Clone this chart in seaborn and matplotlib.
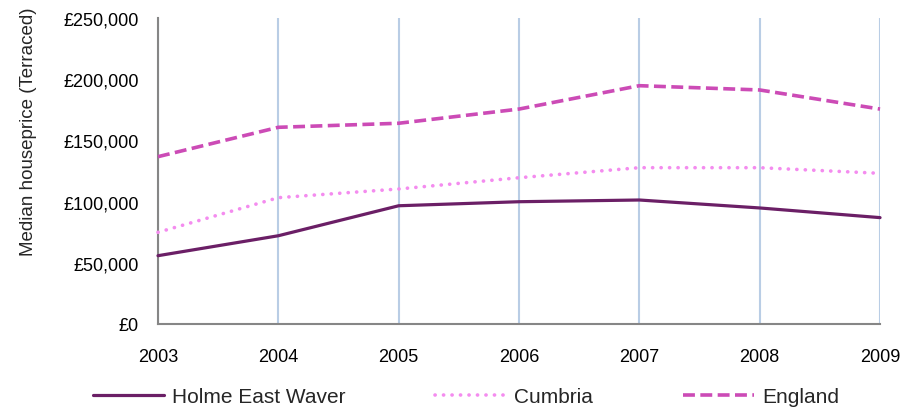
import matplotlib
matplotlib.use("Agg")
import matplotlib.pyplot as plt
from matplotlib.ticker import FuncFormatter
import seaborn as sns
import pandas as pd

# Datos
years = [2003, 2004, 2005, 2006, 2007, 2008, 2009]
holme = [55800, 72100, 96600, 99900, 101300, 94800, 86900]
cumbria = [74900, 103200, 110300, 119500, 127700, 127700, 123100]
england = [136700, 160700, 164000, 175600, 194700, 191200, 175600]

series_names = ["Holme East Waver", "Cumbria", "England"]
colores = {"Holme East Waver": "#6B1F66", "Cumbria": "#F48CEF", "England": "#CC4BB6"}

df = pd.DataFrame({
    "Year": years * 3,
    "Price": holme + cumbria + england,
    "Area": [series_names[0]] * 7 + [series_names[1]] * 7 + [series_names[2]] * 7,
})

sns.set_style("white")
plt.rcParams["font.family"] = ["Liberation Sans", "DejaVu Sans"]

fig = plt.figure(figsize=(9.17, 4.14), dpi=100)
ax = fig.add_axes([0.1723, 0.2150, 0.7874, 0.7391])

sns.lineplot(data=df, x="Year", y="Price", hue="Area", palette=colores,
             hue_order=series_names, ax=ax, legend=False)

# estilos de línea
estilos = {
    "Holme East Waver": dict(lw=2.3, ls="-"),
    "Cumbria": dict(lw=2.6, dashes=(0.05, 2.3), cap="round"),
    "England": dict(lw=2.6, dashes=(3.3, 1.5), cap="butt"),
}
for line, name in zip(ax.get_lines(), series_names):
    est = estilos[name]
    line.set_linewidth(est["lw"])
    if "dashes" in est:
        line.set_dashes(est["dashes"])
        line.set_dash_capstyle(est["cap"])
    line.set_clip_on(False)
    line.set_label(name)
    line.set_zorder(3)

ax.set_xlim(2003, 2009)
ax.set_ylim(0, 250000)
ax.set_xticks(years)
ax.set_yticks(range(0, 250001, 50000))
ax.yaxis.set_major_formatter(FuncFormatter(lambda v, p: f"£{v:,.0f}"))

ax.grid(False)
ax.xaxis.grid(True, color="#B9CDE5", linewidth=1.5)
ax.set_axisbelow(True)

for s in ["top", "right"]:
    ax.spines[s].set_visible(False)
for s in ["left", "bottom"]:
    ax.spines[s].set_color("#868686")
    ax.spines[s].set_linewidth(1.5)

ax.tick_params(axis="both", which="major", direction="out", length=5,
               width=1.5, color="#868686", labelsize=13, labelcolor="black")
ax.tick_params(axis="x", pad=12)
ax.tick_params(axis="y", pad=9)

ax.set_xlabel("")
ax.set_ylabel("Median houseprice (Terraced)", fontsize=13.5)
ax.yaxis.set_label_coords(-0.167, 0.631)

fig.legend(handles=ax.get_lines(), labels=series_names, loc="center",
           bbox_to_anchor=(0.508, 0.039), ncol=3, frameon=False, fontsize=15,
           handlelength=3.4, handletextpad=0.4, columnspacing=4.3)

plt.savefig("out.png", dpi=100)
plt.close()
